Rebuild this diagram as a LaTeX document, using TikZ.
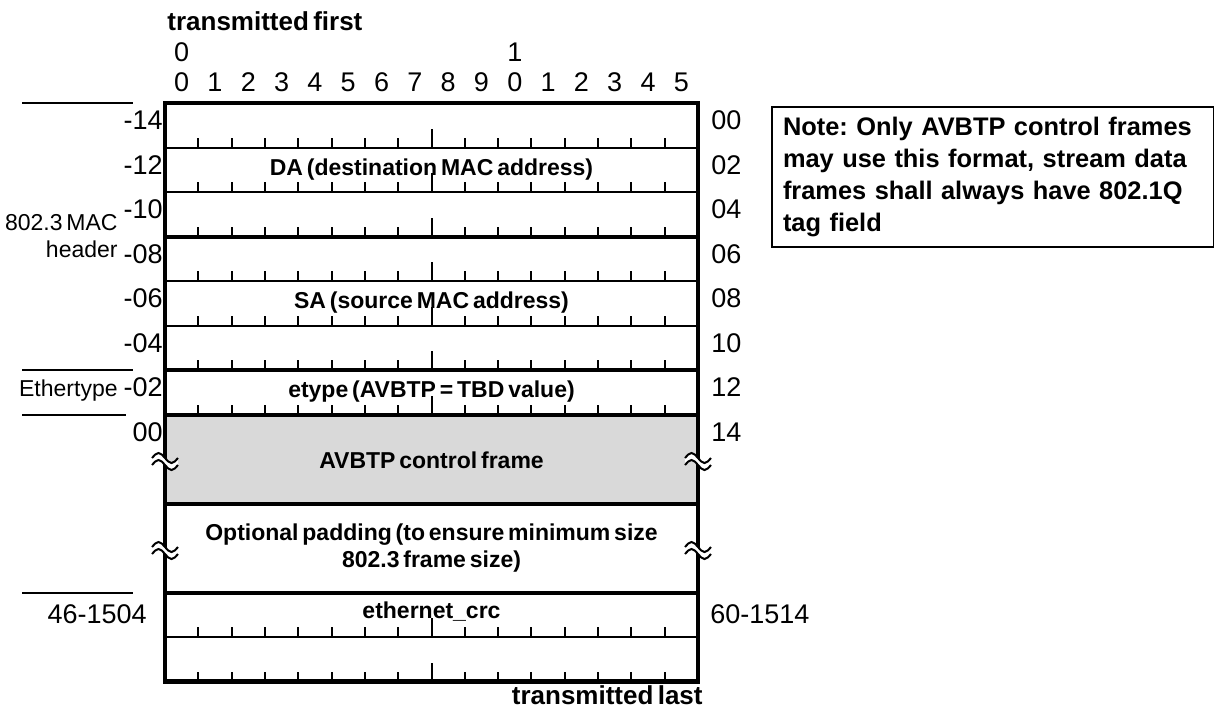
\documentclass[tikz,border=0pt]{standalone}
\usepackage{fontspec}
\setmainfont{Liberation Sans}[WordSpace=0.6]
\frenchspacing
\begin{document}
\begin{tikzpicture}[x=0.5pt,y=-0.5pt,
  lbl/.style={inner sep=0pt, font=\fontsize{13.5}{15}\selectfont},
  side/.style={inner sep=0pt, font=\fontsize{11.5}{13.5}\selectfont, align=right},
  fld/.style={inner sep=0pt, font=\bfseries\fontsize{11.5}{13.5}\selectfont, align=center},
  ttl/.style={inner sep=0pt, font=\bfseries\fontsize{13}{15}\selectfont},
  thinl/.style={line width=1pt},
  thickl/.style={line width=2pt},
  outer/.style={line width=2.2pt},
  notebox/.style={draw, line width=1pt, anchor=north west, minimum width=219pt,
    minimum height=70pt, text width=210pt, inner xsep=5.5pt, align=left,
    font=\bfseries\fontsize{12.7}{16}\selectfont},
  brk/.pic={
    \fill[white] (-13,0) sin (-6.5,-5) cos (0,0) sin (6.5,5) cos (13,0) -- (13,7)
       sin (6.5,12) cos (0,7) sin (-6.5,2) cos (-13,7) -- cycle;
    \draw[line width=1pt] (-13,0) sin (-6.5,-5) cos (0,0) sin (6.5,5) cos (13,0);
    \draw[line width=1pt] (-13,7) sin (-6.5,2) cos (0,7) sin (6.5,12) cos (13,7);
  }
]
\useasboundingbox (0,0) rectangle (1214,708);

% corners of the frame
\coordinate (TL) at (165,103);
\coordinate (BR) at (698,681.5);

% grey payload
\fill[black!15] (165,414.5) rectangle (698,503.5);

% row separators
\foreach \y in {147.5,192,281,325.5,637}
  \draw[thinl] (165,\y) -- (698,\y);
\foreach \y in {236.5,370,414.5,503.5,592.5}
  \draw[thickl] (165,\y) -- (698,\y);

% bit ticks
\foreach \r in {1,2,3,4,5,6,7,12,13} {
  \pgfmathsetmacro\yb{103+44.5*\r}
  \foreach \b in {1,...,15} {
    \ifnum\b=8
      \draw[thinl] (165+33.3125*\b,\yb) -- ++(0,-19);
    \else
      \draw[thinl] (165+33.3125*\b,\yb) -- ++(0,-10);
    \fi
  }
}

% outer frame
\draw[outer] (TL) rectangle (BR);

% break marks
\pic at (165,458) {brk};
\pic at (698,458) {brk};
\pic at (165,547) {brk};
\pic at (698,547) {brk};

% header texts
\node[ttl, anchor=west] (tf) at (167,21) {transmitted first};
\node[ttl, anchor=east] (tl) at (703,695) {transmitted last};

% bit numbers
\node[lbl] (bt0) at (181.7,52) {0};
\node[lbl] (bt1) at (514.8,52) {1};
\foreach \b in {0,...,15} {
  \pgfmathtruncatemacro\d{mod(\b,10)}
  \node[lbl] (bn\b) at (165+33.3125*\b+16.66,82) {\d};
}

% left offsets
\foreach \i/\t in {1/-14,2/-12,3/-10,4/-08,5/-06,6/-04,7/-02,8/00}
  \node[lbl, anchor=east] (lo\i) at (163,75.75+44.5*\i) {\t};
% right offsets
\foreach \i/\t in {1/00,2/02,3/04,4/06,5/08,6/10,7/12,8/14}
  \node[lbl, anchor=west] (ro\i) at (711,75.75+44.5*\i) {\t};

\node[lbl, anchor=east] (lcrc) at (147,614) {46-1504};
\node[lbl, anchor=west] (rcrc) at (710,614) {60-1514};

% side labels and rules
\node[side, anchor=east] (mac) at (118,236) {802.3 MAC\\header};
\node[side, anchor=east] (eth) at (118,391) {Ethertype};
\draw[thinl] (22,103) -- (133,103);
\draw[thinl] (22,370) -- (133,370);
\draw[thinl] (22,415) -- (126,415);
\draw[thinl] (22,593) -- (133,593);

% field names
\node[fld] (da) at (431.5,170) {DA (destination MAC address)};
\node[fld] (sa) at (431.5,303) {SA (source MAC address)};
\node[fld] (et) at (431.5,392) {etype (AVBTP = TBD value)};
\node[fld] (cf) at (431.5,460) {AVBTP control frame};
\node[fld] (pad) at (431.5,548)
  {Optional padding (to ensure minimum size\\802.3 frame size)};
\node[fld] (crc) at (431.5,612) {ethernet\_crc};

% note
\node[notebox] (note) at (771,106)
  {Note: Only AVBTP control frames\\may use this format, stream data\\frames shall always have 802.1Q\\tag field};
\end{tikzpicture}
\end{document}
